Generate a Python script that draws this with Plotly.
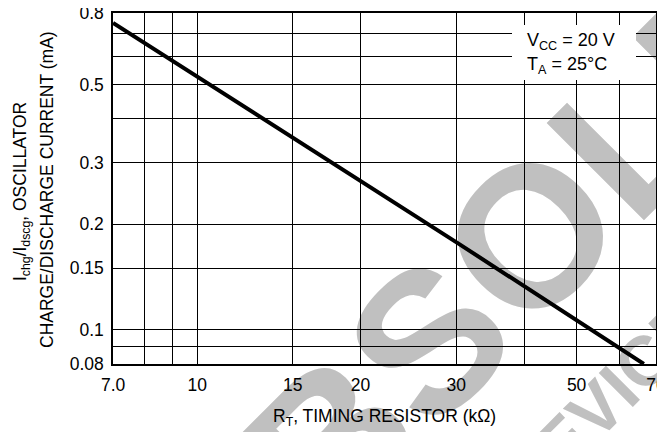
import plotly.graph_objects as go
import math

# ---- data ----
r_kohm = [7.0, 15.0, 30.0, 66.5]
i_ma = [0.75, 0.352, 0.178, 0.08]

x_ticks = [7, 10, 15, 20, 30, 50, 70]
x_labels = ["7.0", "10", "15", "20", "30", "50", "70"]
x_minor = [8, 9, 40, 60]
y_ticks = [0.08, 0.1, 0.15, 0.2, 0.3, 0.5, 0.8]
y_labels = ["0.08", "0.1", "0.15", "0.2", "0.3", "0.5", "0.8"]
y_minor = [0.09, 0.4, 0.6, 0.7]

# watermark letters and their centres on the page (pixels)
wm_letters = ["O", "B", "S", "O", "L", "E", "T", "E"]
wm_cx = [219, 317, 415, 517, 615, 705, 795, 885]
wm_cy = [525, 427, 327, 222, 124, 34, -56, -146]

OFF = 8
W, H = 665 - OFF, 432 - OFF
L, T = 113 - OFF, 13 - OFF
pw, ph = 543, 351
R, B = W - L - pw, H - T - ph

def px(xp):
    return (xp - OFF - L) / pw

def py(yp):
    return (T + ph - (yp - OFF)) / ph

FONT = "Liberation Sans, Arial, Helvetica, sans-serif"
fs = 17.5
EPS = 1e-4

fig = go.Figure()
fig.add_trace(go.Scatter(x=r_kohm, y=i_ma, mode="lines",
                         line=dict(color="black", width=4), showlegend=False,
                         hoverinfo="skip"))

axis_common = dict(type="log", showgrid=True, gridcolor="black", gridwidth=1,
                   showline=True, linecolor="black", linewidth=1.5, mirror=True,
                   ticks="", zeroline=False, ticklabeloverflow="allow",
                   tickfont=dict(family=FONT, size=fs, color="black"))
fig.update_xaxes(range=[math.log10(7) - EPS, math.log10(70) + EPS], tickmode="array",
                 tickvals=x_ticks, ticktext=x_labels, ticklabelstandoff=4,
                 minor=dict(tickmode="array", tickvals=x_minor, showgrid=True,
                            gridcolor="black", gridwidth=1, ticks=""),
                 **axis_common)
fig.update_yaxes(range=[math.log10(0.08) - EPS, math.log10(0.8) + EPS], tickmode="array",
                 tickvals=y_ticks, ticktext=y_labels, ticklabelstandoff=4,
                 minor=dict(tickmode="array", tickvals=y_minor, showgrid=True,
                            gridcolor="black", gridwidth=1, ticks=""),
                 **axis_common)

wm_color = "rgb(192,192,192)"

def wm_shape(cx, cy, text, size):
    d = 10
    return dict(type="rect", xref="paper", yref="paper", layer="below",
                x0=px(cx - d), y0=py(cy + d), x1=px(cx + d), y1=py(cy - d),
                line=dict(color="rgba(0,0,0,0)", width=0), fillcolor="rgba(0,0,0,0)",
                label=dict(text=text, textangle=-45, textposition="middle center",
                           padding=0,
                           font=dict(family=FONT, size=size, color=wm_color, weight="bold")))

for ch, cx, cy in zip(wm_letters, wm_cx, wm_cy):
    fig.add_shape(**wm_shape(cx, cy, ch, 200))
fig.add_shape(**wm_shape(598, 398, "DEVICE", 70))

# white box behind the conditions text
fig.add_shape(type="rect", xref="paper", yref="paper", layer="above",
              x0=px(512), x1=px(636), y0=py(80), y1=py(25),
              fillcolor="white", line=dict(width=0))

ann_font = dict(family=FONT, size=18, color="black")
fig.add_annotation(xref="paper", yref="paper", x=px(525), y=py(41), xanchor="left",
                   yanchor="middle", showarrow=False, text="V<sub>CC</sub> = 20 V", font=ann_font)
fig.add_annotation(xref="paper", yref="paper", x=px(525), y=py(65), xanchor="left",
                   yanchor="middle", showarrow=False, text="T<sub>A</sub> = 25°C", font=ann_font)

tfont = dict(family=FONT, size=fs, color="black")
fig.add_annotation(xref="paper", yref="paper", x=px(384.5), y=py(418), xanchor="center",
                   yanchor="middle", showarrow=False,
                   text="R<sub>T</sub>, TIMING RESISTOR (kΩ)", font=tfont)
fig.add_annotation(xref="paper", yref="paper", x=px(21), y=py(192), xanchor="center",
                   yanchor="middle", showarrow=False, textangle=-90,
                   text="I<sub>chg</sub>/I<sub>dscg</sub>, OSCILLATOR", font=tfont)
fig.add_annotation(xref="paper", yref="paper", x=px(47), y=py(190), xanchor="center",
                   yanchor="middle", showarrow=False, textangle=-90,
                   text="CHARGE/DISCHARGE CURRENT (mA)", font=tfont)

fig.update_layout(width=W, height=H, margin=dict(l=L, r=R, t=T, b=B, autoexpand=False),
                  paper_bgcolor="white", plot_bgcolor="white", showlegend=False)

fig.write_html("out.html")
